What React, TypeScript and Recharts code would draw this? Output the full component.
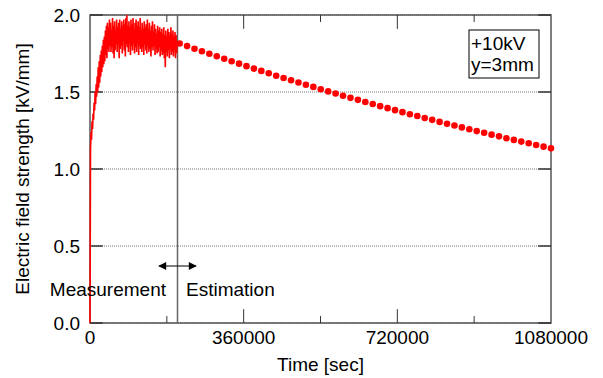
import React from "react";
import {
  CartesianGrid,
  ComposedChart,
  Line,
  ReferenceArea,
  ReferenceLine,
  XAxis,
  YAxis,
} from "recharts";

document.body.style.margin = "0";

// measured field strength, one sample every 1200 s from t = 0
const measStep = 1200;
const measValues = [
  0.0, 1.12, 1.24, 1.19, 1.31, 1.26, 1.36, 1.32, 1.43, 1.38,
  1.5, 1.42, 1.55, 1.47, 1.6, 1.5, 1.66, 1.53, 1.7, 1.56,
  1.74, 1.6, 1.77, 1.63, 1.8, 1.66, 1.84, 1.68, 1.86, 1.7,
  1.9, 1.74, 1.93, 1.72, 1.95, 1.78, 1.92, 1.76, 1.97, 1.8,
  1.95, 1.76, 1.9, 1.79, 1.98, 1.75, 1.93, 1.72, 1.96, 1.77,
  1.89, 1.81, 1.97, 1.76, 1.92, 1.82, 1.95, 1.72, 1.97, 1.78,
  1.91, 1.8, 1.96, 1.75, 1.93, 1.83, 1.97, 1.77, 1.94, 1.73,
  1.98, 1.81, 2.0, 1.79, 1.93, 1.76, 1.96, 1.82, 1.92, 1.74,
  1.97, 1.8, 1.94, 1.77, 1.98, 1.81, 1.91, 1.75, 1.95, 1.79,
  1.97, 1.76, 1.93, 1.82, 1.96, 1.74, 1.92, 1.8, 1.98, 1.78,
  1.9, 1.76, 1.95, 1.79, 1.91, 1.74, 1.96, 1.81, 1.92, 1.77,
  1.94, 1.75, 1.97, 1.8, 1.91, 1.76, 1.95, 1.78, 1.9, 1.73,
  1.93, 1.79, 1.96, 1.77, 1.89, 1.8, 1.94, 1.74, 1.91, 1.78,
  1.88, 1.75, 1.93, 1.76, 1.9, 1.79, 1.92, 1.73, 1.89, 1.77,
  1.91, 1.74, 1.88, 1.75, 1.92, 1.72, 1.87, 1.66, 1.9, 1.76,
  1.86, 1.73, 1.91, 1.77, 1.89, 1.72, 1.87, 1.78, 1.92, 1.74,
  1.88, 1.76, 1.9, 1.73, 1.86, 1.77, 1.89, 1.72, 1.87, 1.75,
  1.82,
];

// estimated decay after the measurement ends
const estTimes = [
  210000, 227400, 244800, 262200, 279600, 297000, 314400, 331800, 349200, 366600,
  384000, 401400, 418800, 436200, 453600, 471000, 488400, 505800, 523200, 540600,
  558000, 575400, 592800, 610200, 627600, 645000, 662400, 679800, 697200, 714600,
  732000, 749400, 766800, 784200, 801600, 819000, 836400, 853800, 871200, 888600,
  906000, 923400, 940800, 958200, 975600, 993000, 1010400, 1027800, 1045200, 1062600,
  1080000,
];
const estValues = [
  1.815, 1.798, 1.781, 1.765, 1.748, 1.732, 1.716, 1.7, 1.684, 1.668,
  1.652, 1.637, 1.622, 1.606, 1.591, 1.576, 1.562, 1.547, 1.533, 1.518,
  1.504, 1.49, 1.476, 1.462, 1.449, 1.435, 1.422, 1.408, 1.395, 1.382,
  1.369, 1.356, 1.344, 1.331, 1.319, 1.306, 1.294, 1.282, 1.27, 1.258,
  1.246, 1.235, 1.223, 1.212, 1.2, 1.189, 1.178, 1.167, 1.156, 1.145,
  1.134,
];

const xTicks = [0, 360000, 720000, 1080000];
const xMinorTicks = [180000, 540000, 900000];
const yTicks = [0, 0.5, 1.0, 1.5, 2.0];
const measEnd = 205000;

const measData = measValues.map((v, i) => ({ t: i * measStep, v }));
const estData = estTimes.map((t, i) => ({ t, v: estValues[i] }));

const font = "'Liberation Sans', Arial, sans-serif";
const fs = 19;
const tickColor = "#333";

export default function App() {
  return (
    <div style={{ position: "relative", width: 603, height: 378, fontFamily: font }}>
      <ComposedChart
        width={603}
        height={378}
        margin={{ top: 15, right: 52, bottom: 0, left: 0 }}
      >
        <CartesianGrid
          vertical={false}
          horizontal
          stroke="#777"
          strokeDasharray="1 1"
        />
        <XAxis
          type="number"
          dataKey="t"
          domain={[0, 1080000]}
          ticks={xTicks}
          tickLine={false}
          axisLine={false}
          height={55}
          tickMargin={2}
          tick={{ fill: "#000", fontSize: fs, fontFamily: font }}
          label={{
            value: "Time [sec]",
            position: "insideBottom",
            offset: 7,
            fill: "#000",
            fontSize: fs,
            fontFamily: font,
          }}
        />
        <YAxis
          type="number"
          domain={[0, 2]}
          ticks={yTicks}
          tickFormatter={(v: number) => v.toFixed(1)}
          tickLine={false}
          axisLine={false}
          width={90}
          tickMargin={4}
          tick={{ fill: "#000", fontSize: fs, fontFamily: font }}
          label={{
            value: "Electric field strength [kV/mm]",
            angle: -90,
            position: "insideLeft",
            offset: 22,
            fill: "#000",
            fontSize: fs,
            fontFamily: font,
            style: { textAnchor: "middle" },
          }}
        />

        <ReferenceArea
          x1={0}
          x2={1080000}
          y1={0}
          y2={2}
          fill="none"
          stroke="#555"
          strokeWidth={1.5}
        />

        {xTicks.slice(1, 3).map((t) => (
          <ReferenceLine
            key={"xb" + t}
            segment={[{ x: t, y: 0 }, { x: t, y: 0.09 }]}
            stroke={tickColor}
          />
        ))}
        {xTicks.slice(1, 3).map((t) => (
          <ReferenceLine
            key={"xt" + t}
            segment={[{ x: t, y: 2 }, { x: t, y: 1.91 }]}
            stroke={tickColor}
          />
        ))}
        {xMinorTicks.map((t) => (
          <ReferenceLine
            key={"mb" + t}
            segment={[{ x: t, y: 0 }, { x: t, y: 0.045 }]}
            stroke={tickColor}
          />
        ))}
        {xMinorTicks.map((t) => (
          <ReferenceLine
            key={"mt" + t}
            segment={[{ x: t, y: 2 }, { x: t, y: 1.955 }]}
            stroke={tickColor}
          />
        ))}
        {yTicks.map((v) => (
          <ReferenceLine
            key={"yl" + v}
            segment={[{ x: 0, y: v }, { x: 30000, y: v }]}
            stroke={tickColor}
            strokeWidth={1.5}
          />
        ))}
        {yTicks.map((v) => (
          <ReferenceLine
            key={"yr" + v}
            segment={[{ x: 1050000, y: v }, { x: 1080000, y: v }]}
            stroke={tickColor}
            strokeWidth={1.5}
          />
        ))}

        <ReferenceLine x={measEnd} stroke="#666" strokeWidth={1.5} />

        <Line
          data={estData}
          dataKey="v"
          stroke="none"
          dot={{ r: 3.3, fill: "#ff0000", stroke: "none" }}
          isAnimationActive={false}
        />
        <Line
          data={measData}
          dataKey="v"
          stroke="#ff0000"
          strokeWidth={1.6}
          dot={false}
          isAnimationActive={false}
        />
      </ComposedChart>

      <svg
        width={603}
        height={378}
        style={{ position: "absolute", left: 0, top: 0, pointerEvents: "none" }}
      >
        <defs>
          <marker
            id="arrowHead"
            viewBox="0 0 10 10"
            refX="9"
            refY="5"
            markerWidth="10"
            markerHeight="8"
            markerUnits="userSpaceOnUse"
            orient="auto-start-reverse"
          >
            <path d="M0,0 L10,5 L0,10 z" fill="#000" />
          </marker>
        </defs>
        <line
          x1={159}
          y1={266}
          x2={196}
          y2={266}
          stroke="#000"
          strokeWidth={1.2}
          markerStart="url(#arrowHead)"
          markerEnd="url(#arrowHead)"
        />
        <text x={166} y={296} textAnchor="end" fontSize={fs} fontFamily={font} fill="#000">
          Measurement
        </text>
        <text x={186} y={296} fontSize={fs} fontFamily={font} fill="#000">
          Estimation
        </text>
        <rect x={469} y={30} width={70} height={48} fill="#fff" stroke="#000" strokeWidth={1} />
        <text x={471} y={50} fontSize={fs} fontFamily={font} fill="#000">
          +10kV
        </text>
        <text x={471} y={71} fontSize={fs} fontFamily={font} fill="#000">
          y=3mm
        </text>
      </svg>
    </div>
  );
}
